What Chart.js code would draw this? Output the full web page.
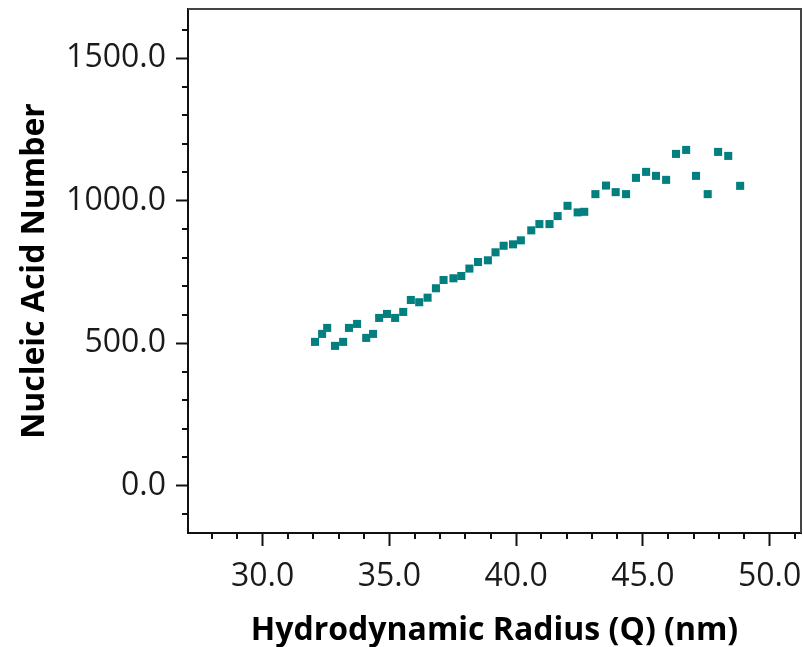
<!DOCTYPE html>
<html>
<head>
<meta charset="utf-8">
<script src="https://cdn.jsdelivr.net/npm/chart.js@4"></script>
<style>
  html, body { margin: 0; padding: 0; background: #fff; }
  #wrap { width: 803px; height: 647px; position: relative; }
</style>
</head>
<body>
<div id="wrap"><canvas id="chart"></canvas></div>
<script>
// values
const radius = [32.07, 32.35, 32.55, 32.86, 33.18, 33.41, 33.73, 34.09, 34.36, 34.60,
  34.91, 35.23, 35.55, 35.85, 36.18, 36.51, 36.84, 37.14, 37.53, 37.84,
  38.16, 38.50, 38.89, 39.19, 39.51, 39.88, 40.19, 40.60, 40.92, 41.32,
  41.64, 42.03, 42.43, 42.69, 43.13, 43.55, 43.93, 44.34, 44.73, 45.13,
  45.52, 45.92, 46.31, 46.71, 47.10, 47.56, 47.97, 48.37, 48.84];
const nucleic = [505, 533, 554, 491, 505, 554, 568, 519, 533, 589,
  603, 589, 610, 652, 644, 660, 693, 722, 728, 736,
  762, 785, 791, 819, 842, 847, 861, 896, 918, 918,
  946, 982, 959, 961, 1023, 1053, 1030, 1023, 1080, 1101,
  1087, 1073, 1164, 1178, 1087, 1023, 1171, 1157, 1052];
const xTicks = [30, 35, 40, 45, 50];
const yTicks = [0, 500, 1000, 1500];

const tickFont = { family: '"Open Sans", sans-serif', size: 32 };
const titleFont = { family: '"Open Sans", sans-serif', size: 32, weight: 'bold' };

// minor ticks + top/right frame
const frame = {
  id: 'frame',
  afterDraw(chart) {
    const { ctx, chartArea: a, scales: { x, y } } = chart;
    ctx.save();
    ctx.strokeStyle = '#111';
    ctx.lineWidth = 2;
    ctx.beginPath();
    for (let v = Math.ceil(x.min); v <= x.max; v++) {
      if (v % 5 === 0) continue;
      const px = Math.round(x.getPixelForValue(v));
      ctx.moveTo(px, a.bottom); ctx.lineTo(px, a.bottom + 6);
    }
    for (let v = Math.ceil(y.min / 100) * 100; v <= y.max; v += 100) {
      if (v % 500 === 0) continue;
      const py = Math.round(y.getPixelForValue(v));
      ctx.moveTo(a.left, py); ctx.lineTo(a.left - 6, py);
    }
    ctx.stroke();
    ctx.strokeStyle = '#444';
    ctx.beginPath();
    ctx.moveTo(a.left, a.top); ctx.lineTo(a.right, a.top); ctx.lineTo(a.right, a.bottom);
    ctx.stroke();
    ctx.restore();
  }
};

new Chart(document.getElementById('chart'), {
  type: 'scatter',
  data: {
    datasets: [{
      data: radius.map((r, i) => ({ x: r, y: nucleic[i] })),
      backgroundColor: '#037f80',
      borderWidth: 0,
      pointStyle: 'rect',
      pointRadius: 5.7,
      pointHoverRadius: 5.7
    }]
  },
  options: {
    responsive: true,
    maintainAspectRatio: false,
    animation: false,
    layout: { autoPadding: false, padding: { top: 9, right: 2, left: 0, bottom: 0 } },
    plugins: { legend: { display: false }, tooltip: { enabled: false } },
    scales: {
      x: {
        type: 'linear',
        min: 27.06, max: 51.24,
        afterFit: s => { s.height = 114; s.paddingLeft = 0; s.paddingRight = 0; },
        afterBuildTicks: s => { s.ticks = xTicks.map(v => ({ value: v })); },
        ticks: { font: tickFont, color: '#1a1a1a', padding: 12, maxRotation: 0,
          callback: v => Number(v).toFixed(1) },
        grid: { drawOnChartArea: false, tickLength: 13, tickWidth: 2, tickColor: '#111' },
        border: { color: '#111', width: 2 },
        title: { display: true, text: 'Hydrodynamic Radius (Q) (nm)', font: titleFont,
          color: '#000', padding: { top: 0, bottom: -3 } }
      },
      y: {
        min: -165, max: 1672,
        afterFit: s => { s.width = 188; s.paddingTop = 0; s.paddingBottom = 0; },
        afterBuildTicks: s => { s.ticks = yTicks.map(v => ({ value: v })); },
        ticks: { font: tickFont, color: '#1a1a1a', padding: 10,
          callback: v => Number(v).toFixed(1) },
        grid: { drawOnChartArea: false, tickLength: 12, tickWidth: 2, tickColor: '#111' },
        border: { color: '#111', width: 2 },
        title: { display: true, text: 'Nucleic Acid Number', font: titleFont,
          color: '#000', padding: { top: 16, bottom: 4 } }
      }
    }
  },
  plugins: [frame]
});
</script>
</body>
</html>
